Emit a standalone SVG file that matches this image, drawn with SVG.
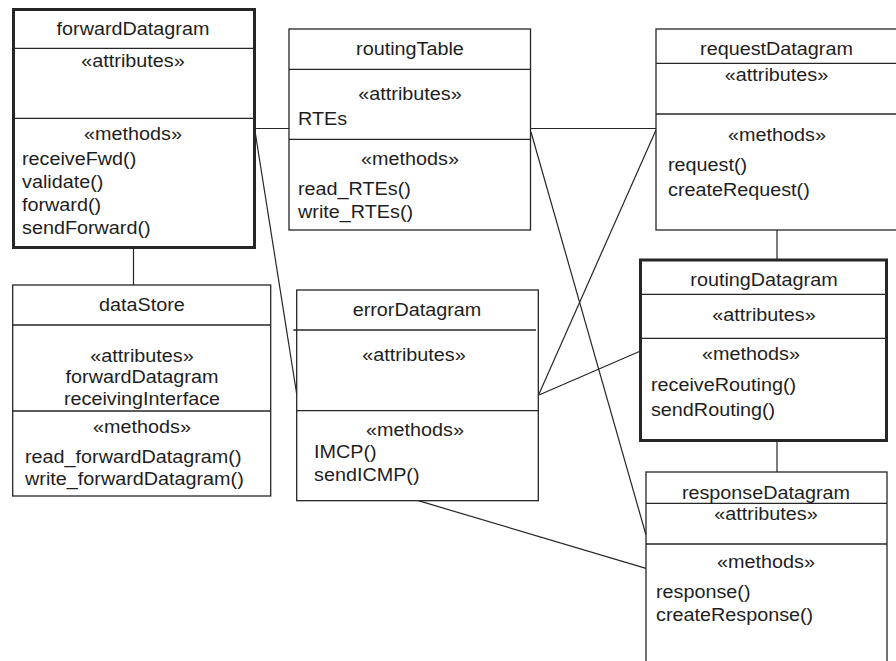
<svg xmlns="http://www.w3.org/2000/svg" width="896" height="661" viewBox="0 0 896 661">
  <style>
    .box { fill: #ffffff; stroke: #262626; stroke-width: 1.3; }
    .bold { stroke-width: 3; }
    .div { stroke: #262626; stroke-width: 1.3; fill: none; }
    .conn line { stroke: #262626; stroke-width: 1.2; fill: none; }
    text { font-family: "Liberation Sans", Arial, sans-serif; font-size: 18.5px; fill: #1e1e1e; transform: scaleX(1.07); transform-box: fill-box; }
    .c { text-anchor: middle; transform-origin: 50% 0; }
    .l { text-anchor: start; transform-origin: 0 0; }
  </style>

  <rect width="896" height="661" fill="#ffffff"/>

  <!-- associations between classes -->
  <g id="connectors" class="conn">
    <line x1="254.5" y1="128.5" x2="289" y2="128.5"/>
    <line x1="530.5" y1="128.5" x2="656" y2="128.5"/>
    <line x1="255" y1="131" x2="297" y2="396"/>
    <line x1="531" y1="132" x2="646" y2="535"/>
    <line x1="656" y1="130" x2="539" y2="394"/>
    <line x1="640.5" y1="351" x2="539" y2="395"/>
    <line x1="418.3" y1="500.7" x2="646" y2="568.3"/>
    <line x1="133.5" y1="248" x2="133.5" y2="285"/>
    <line x1="777" y1="230" x2="777" y2="260"/>
    <line x1="777" y1="441" x2="777" y2="472"/>
  </g>

  <g id="forwardDatagram">
    <rect class="box bold" x="13.5" y="9.5" width="241" height="238"/>
    <line class="div" x1="13.5" y1="48.3" x2="254.5" y2="48.3"/>
    <line class="div" x1="13.5" y1="118.3" x2="254.5" y2="118.3"/>
    <text class="c" x="133" y="35">forwardDatagram</text>
    <text class="c" x="133" y="67">«attributes»</text>
    <text class="c" x="133" y="140">«methods»</text>
    <text class="l" x="22" y="165.5">receiveFwd()</text>
    <text class="l" x="22" y="188.5">validate()</text>
    <text class="l" x="22" y="211.5">forward()</text>
    <text class="l" x="22" y="234">sendForward()</text>
  </g>

  <g id="routingTable">
    <rect class="box" x="289" y="29" width="241.5" height="201"/>
    <line class="div" x1="289" y1="69.3" x2="530.5" y2="69.3"/>
    <line class="div" x1="289" y1="139.3" x2="530.5" y2="139.3"/>
    <text class="c" x="410" y="55">routingTable</text>
    <text class="c" x="410" y="100">«attributes»</text>
    <text class="l" x="298" y="125">RTEs</text>
    <text class="c" x="410" y="165">«methods»</text>
    <text class="l" x="298" y="195">read_RTEs()</text>
    <text class="l" x="298" y="218">write_RTEs()</text>
  </g>

  <g id="requestDatagram">
    <rect class="box" x="656" y="29" width="260" height="201"/>
    <line class="div" x1="656" y1="63.3" x2="896" y2="63.3"/>
    <line class="div" x1="656" y1="114" x2="896" y2="114"/>
    <text class="c" x="776.5" y="55">requestDatagram</text>
    <text class="c" x="776.5" y="81">«attributes»</text>
    <text class="c" x="777" y="141.5">«methods»</text>
    <text class="l" x="668" y="171.5">request()</text>
    <text class="l" x="668" y="196">createRequest()</text>
  </g>

  <g id="routingDatagram">
    <rect class="box bold" x="640.5" y="260" width="246" height="180.5"/>
    <line class="div" x1="640.5" y1="294.3" x2="886.5" y2="294.3"/>
    <line class="div" x1="640.5" y1="338.3" x2="886.5" y2="338.3"/>
    <text class="c" x="764" y="286.5">routingDatagram</text>
    <text class="c" x="764" y="321.5">«attributes»</text>
    <text class="c" x="751" y="360">«methods»</text>
    <text class="l" x="651" y="391.5">receiveRouting()</text>
    <text class="l" x="651" y="416.5">sendRouting()</text>
  </g>

  <g id="responseDatagram">
    <rect class="box" x="646" y="472" width="241" height="210"/>
    <line class="div" x1="646" y1="503.3" x2="887" y2="503.3"/>
    <line class="div" x1="646" y1="544" x2="887" y2="544"/>
    <text class="c" x="766" y="499">responseDatagram</text>
    <text class="c" x="766" y="520">«attributes»</text>
    <text class="c" x="766" y="568">«methods»</text>
    <text class="l" x="656" y="598">response()</text>
    <text class="l" x="656" y="621.5">createResponse()</text>
  </g>

  <g id="dataStore">
    <rect class="box" x="12.7" y="285" width="258" height="211"/>
    <line class="div" x1="12.7" y1="325" x2="270.7" y2="325"/>
    <line class="div" x1="12.7" y1="411" x2="270.7" y2="411"/>
    <text class="c" x="142" y="311.5">dataStore</text>
    <text class="c" x="142" y="362">«attributes»</text>
    <text class="c" x="142" y="383.5">forwardDatagram</text>
    <text class="c" x="142" y="405">receivingInterface</text>
    <text class="c" x="142" y="433">«methods»</text>
    <text class="l" x="25" y="463.5">read_forwardDatagram()</text>
    <text class="l" x="25" y="485">write_forwardDatagram()</text>
  </g>

  <g id="errorDatagram">
    <rect class="box" x="296.7" y="290" width="241.6" height="210.7"/>
    <line class="div" x1="293.3" y1="330" x2="536" y2="330"/>
    <line class="div" x1="296.7" y1="410.7" x2="538.3" y2="410.7"/>
    <text class="c" x="417" y="316.5">errorDatagram</text>
    <text class="c" x="414" y="361.5">«attributes»</text>
    <text class="c" x="415" y="436.5">«methods»</text>
    <text class="l" x="314" y="458.5">IMCP()</text>
    <text class="l" x="314" y="481.5">sendICMP()</text>
  </g>
</svg>
